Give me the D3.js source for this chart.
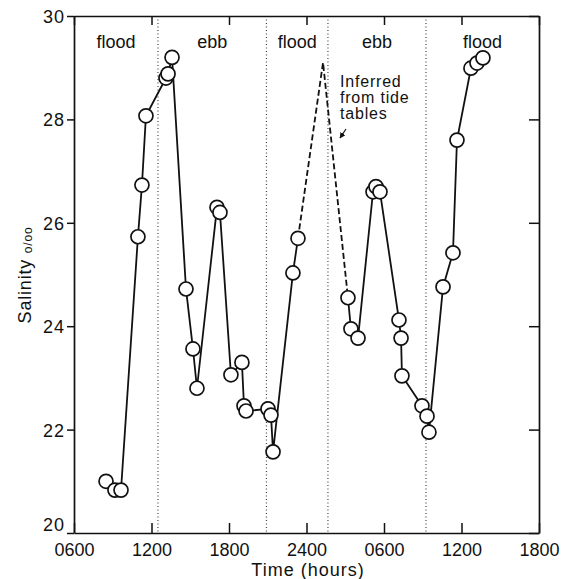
<!DOCTYPE html>
<html lang="en">
<head>
    <meta charset="UTF-8">
    <title>Salinity vs time</title>
    <script src="https://d3js.org/d3.v7.min.js"></script>
    <style>
        body { margin: 0; background: #fff; }
        text { font-family: "Liberation Sans", Arial, sans-serif; fill: #111; }
        .dot { fill: #fff; stroke: #111; stroke-width: 1.7px; }
        .line { fill: none; stroke: #111; stroke-width: 1.8px; }
        .phase-sep { stroke: #444; stroke-width: 1.2px; stroke-dasharray: 1,2.5; }
    </style>
</head>
<body>
<svg id="chart" width="571" height="579"></svg>
<script>
    // time in hours since midnight of day 1 (so 24 = 2400, 30 = 0600 next day)
    const hours = [8.48, 9.17, 9.64, 10.95, 11.26, 11.57, 13.12, 13.28, 13.59, 14.67,
                   15.21, 15.52, 17.07, 17.30, 18.15, 19.0, 19.16, 19.32, 21.02, 21.25,
                   21.41, 22.95, 23.34, 27.21, 27.44, 27.99, 29.15, 29.38, 29.69, 31.16,
                   31.32, 31.39, 32.94, 33.33, 33.48, 34.57, 35.34, 35.65, 36.73, 37.2, 37.66];
    const salinity = [21.0, 20.83, 20.83, 25.73, 26.73, 28.07, 28.8, 28.88, 29.2, 24.72,
                      23.56, 22.8, 26.3, 26.2, 23.06, 23.3, 22.46, 22.36, 22.4, 22.28,
                      21.57, 25.03, 25.7, 24.55, 23.95, 23.77, 26.6, 26.7, 26.6, 24.12,
                      23.77, 23.04, 22.46, 22.26, 21.95, 24.76, 25.42, 27.6, 28.99, 29.09, 29.19];
    // gap in the record: index of last point before the gap
    const gapAfter = 22;
    // peak inferred from tide tables
    const inferredPeak = [25.28, 29.1];

    const phaseBounds = [12.5, 20.9, 25.66, 33.25];
    const phaseLabels = ["flood", "ebb", "flood", "ebb", "flood"];

    const xTicks = [6, 12, 18, 24, 30, 36, 42];
    const yTicks = [20, 22, 24, 26, 28, 30];

    const svg = d3.select("#chart");
    const pLeft = 74, pRight = 539, pTop = 16, pBottom = 533;

    const x = d3.scaleLinear().domain([6, 42]).range([pLeft, pRight]);
    const y = d3.scaleLinear().domain([20, 30]).range([pBottom, pTop]);

    const fmtTime = h => {
        const v = h % 24 === 0 && h > 0 ? 24 : h % 24;
        return String(v * 100).padStart(4, "0");
    };

    // phase separators (dotted)
    svg.selectAll(".phase-sep").data(phaseBounds).enter().append("line")
        .attr("class", "phase-sep")
        .attr("x1", d => x(d)).attr("x2", d => x(d))
        .attr("y1", pTop).attr("y2", pBottom);

    // phase labels, centred in each interval
    const edges = [6, ...phaseBounds, 42];
    svg.selectAll(".phase").data(phaseLabels).enter().append("text")
        .attr("class", "phase")
        .attr("x", (d, i) => x((edges[i] + edges[i + 1]) / 2))
        .attr("y", 48)
        .attr("text-anchor", "middle")
        .style("font-size", "18px")
        .text(d => d);

    // axes
    const xBottom = d3.axisBottom(x).tickValues(xTicks).tickFormat(fmtTime).tickSizeInner(-10).tickSizeOuter(0).tickPadding(14);
    const gx = svg.append("g").attr("transform", `translate(0,${pBottom})`).call(xBottom);
    const xTop = d3.axisTop(x).tickValues(xTicks).tickFormat("").tickSizeInner(-9).tickSizeOuter(0);
    const gxt = svg.append("g").attr("transform", `translate(0,${pTop})`).call(xTop);
    const yLeft = d3.axisLeft(y).tickValues(yTicks).tickSizeInner(7).tickSizeOuter(0).tickPadding(2);
    const gy = svg.append("g").attr("transform", `translate(${pLeft},0)`).call(yLeft);
    const yRight = d3.axisRight(y).tickValues(yTicks).tickFormat("").tickSizeInner(-10).tickSizeOuter(0);
    const gyr = svg.append("g").attr("transform", `translate(${pRight},0)`).call(yRight);

    [gx, gxt, gy, gyr].forEach(g => {
        g.select(".domain").attr("stroke", "#111").attr("stroke-width", 1.7);
        g.selectAll(".tick line").attr("stroke", "#111").attr("stroke-width", 1.5);
        g.selectAll("text").style("font-size", "18px").style("font-family", "Liberation Sans, Arial, sans-serif").attr("fill", "#111");
    });
    gx.selectAll(".tick text").attr("dy", "0.5em");
    gy.selectAll(".tick text").attr("dy", d => d === 20 ? "-0.12em" : "0.36em").style("letter-spacing", "1px");

    // axis titles
    svg.append("text")
        .attr("x", 308).attr("y", 576)
        .attr("text-anchor", "middle")
        .style("font-size", "18px")
        .style("letter-spacing", "1px")
        .text("Time (hours)");

    const yt = svg.append("text")
        .attr("transform", `translate(31,275) rotate(-90)`)
        .attr("text-anchor", "middle")
        .style("font-size", "18px")
        .style("letter-spacing", "0.8px");
    yt.append("tspan").text("Salinity ");
    yt.append("tspan").style("font-size", "12px").attr("dy", "1").text("o/oo");

    // lines
    const pts = hours.map((h, i) => [h, salinity[i]]);
    const line = d3.line().x(d => x(d[0])).y(d => y(d[1]));

    svg.append("path").attr("class", "line").attr("d", line(pts.slice(0, gapAfter + 1)));
    svg.append("path").attr("class", "line").attr("d", line(pts.slice(gapAfter + 1)));
    svg.append("path").attr("class", "line")
        .attr("stroke-dasharray", "6,3")
        .attr("d", line([pts[gapAfter], inferredPeak, pts[gapAfter + 1]]));

    // points
    svg.selectAll(".dot").data(pts).enter().append("circle")
        .attr("class", "dot")
        .attr("cx", d => x(d[0])).attr("cy", d => y(d[1]))
        .attr("r", 7);

    // annotation
    const note = svg.append("text")
        .attr("x", 340).attr("y", 87)
        .style("font-size", "16px")
        .style("letter-spacing", "0.8px");
    ["Inferred", "from tide", "tables"].forEach((t, i) => {
        note.append("tspan").attr("x", 340).attr("dy", i === 0 ? 0 : 16).text(t);
    });
    svg.append("defs").append("marker")
        .attr("id", "arr").attr("viewBox", "0 0 10 10")
        .attr("refX", 9).attr("refY", 5)
        .attr("markerWidth", 5).attr("markerHeight", 5)
        .attr("orient", "auto")
        .append("path").attr("d", "M0,0L10,5L0,10z").attr("fill", "#111");
    svg.append("line")
        .attr("x1", 346).attr("y1", 129).attr("x2", 340).attr("y2", 138)
        .attr("stroke", "#111").attr("stroke-width", 1.2)
        .attr("marker-end", "url(#arr)");
</script>
</body>
</html>
